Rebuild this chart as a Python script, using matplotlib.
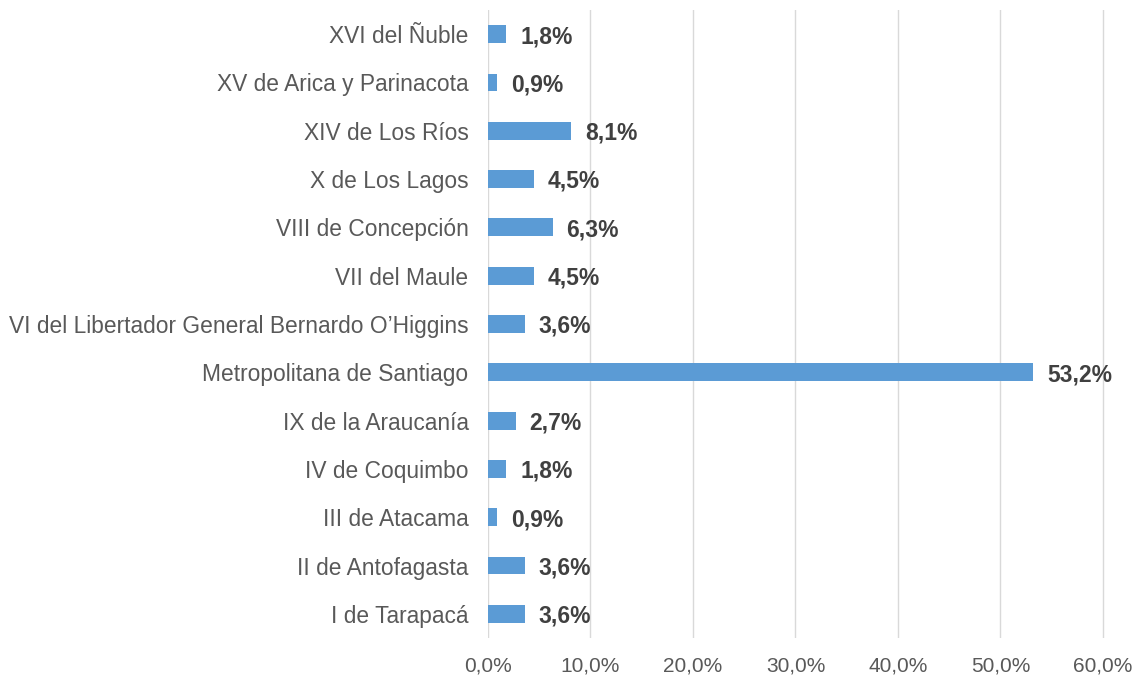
import matplotlib
matplotlib.use('Agg')
import matplotlib.pyplot as plt
from matplotlib.ticker import FuncFormatter

# Datos (de abajo hacia arriba)
regiones = ['I de Tarapacá', 'II de Antofagasta', 'III de Atacama', 'IV de Coquimbo',
            'IX de la Araucanía', 'Metropolitana de Santiago',
            'VI del Libertador General Bernardo O\u2019Higgins', 'VII del Maule',
            'VIII de Concepción', 'X de Los Lagos', 'XIV de Los Ríos',
            'XV de Arica y Parinacota', 'XVI del Ñuble']
porcentajes = [3.6, 3.6, 0.9, 1.8, 2.7, 53.2, 3.6, 4.5, 6.3, 4.5, 8.1, 0.9, 1.8]
ticks_x = [0, 10, 20, 30, 40, 50, 60]

plt.rcParams['font.family'] = ['Liberation Sans', 'DejaVu Sans']

fig = plt.figure(figsize=(11.34, 6.76), dpi=100)
ax = fig.add_axes([0.4303, 0.0562, 0.5441, 0.929])

ax.barh(range(len(regiones)), porcentajes, height=0.37, color='#5B9BD5', zorder=3)

for i, v in enumerate(porcentajes):
    ax.text(v + 1.35, i - 0.05, f'{v:.1f}%'.replace('.', ','), va='center', ha='left',
            fontsize=16.5, fontweight='bold', color='#404040')

ax.set_xlim(0, 60.2)
ax.set_ylim(-0.5, len(regiones) - 0.5)
ax.set_xticks(ticks_x)
ax.xaxis.set_major_formatter(FuncFormatter(lambda x, p: f'{x:.1f}%'.replace('.', ',')))
ax.set_yticks(range(len(regiones)))
ax.set_yticklabels(regiones)
ax.tick_params(axis='y', length=0, pad=14, labelsize=16.4, labelcolor='#595959')
ax.tick_params(axis='x', length=0, pad=13, labelsize=15, labelcolor='#595959')
ax.grid(axis='x', color='#D9D9D9', linewidth=1, zorder=0)
for s in ax.spines.values():
    s.set_visible(False)

fig.savefig('out.png', dpi=100)
